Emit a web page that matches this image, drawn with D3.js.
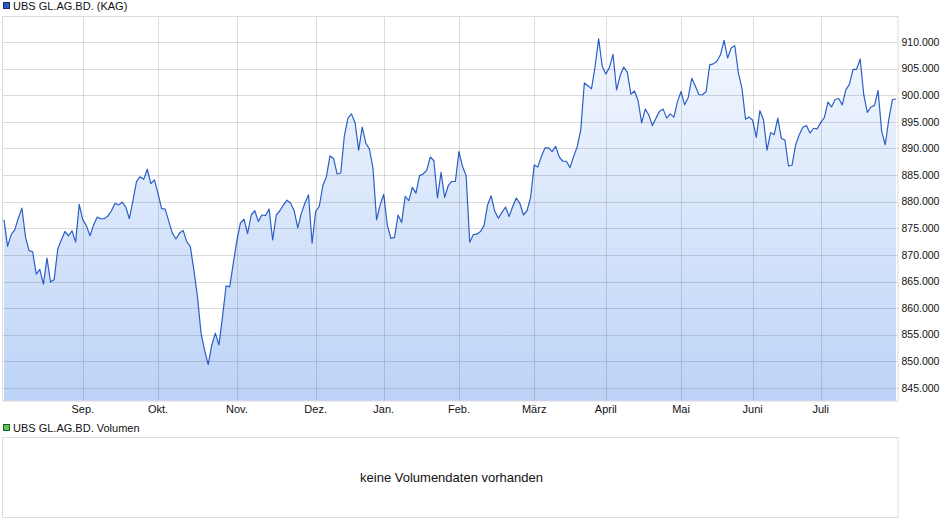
<!DOCTYPE html>
<html><head><meta charset="utf-8">
<script src="https://cdn.jsdelivr.net/npm/d3@7"></script>
<style>
html,body{margin:0;padding:0;background:#fff;}
svg{display:block;font-family:"Liberation Sans",Arial,sans-serif;}
</style></head>
<body><svg id="c" width="940" height="526"></svg>
<script>
const seriesName = "UBS GL.AG.BD. (KAG)";
const volumeName = "UBS GL.AG.BD. Volumen";
const volumeMsg = "keine Volumendaten vorhanden";

const values = [
876.6,871.6,873.8,874.7,876.9,878.8,873.4,870.8,870.6,866.4,
867.3,864.5,869.4,864.9,865.4,871.1,872.8,874.4,873.6,874.5,
872.4,879.5,876.6,875.5,873.6,875.6,877.1,876.8,876.8,877.3,
878.3,879.7,879.4,879.9,879.0,876.8,880.2,883.8,884.7,884.2,
886.1,883.4,884.1,881.5,878.7,878.6,876.3,874.1,873.0,874.1,
874.6,872.5,871.6,867.2,862.2,855.3,852.1,849.4,853.1,855.3,
853.1,858.4,864.2,864.0,868.4,872.7,876.0,876.7,874.0,877.5,
878.3,876.3,877.5,877.4,878.6,872.8,877.5,878.3,879.4,880.3,
879.7,878.3,875.1,877.8,879.7,881.3,872.2,878.2,879.1,883.0,
884.7,888.6,888.1,885.2,885.4,892.3,895.7,896.5,894.8,889.7,
894.0,891.0,889.9,886.3,876.6,879.4,881.4,875.6,873.1,873.3,
877.5,876.1,881.0,880.2,882.7,881.6,884.9,885.2,885.9,888.4,
887.7,880.7,885.5,880.8,883.0,883.8,883.8,889.4,886.6,884.9,
872.4,873.8,873.9,874.4,875.5,879.4,881.1,878.2,876.9,878.0,
879.0,877.2,879.1,880.7,879.7,877.5,878.3,880.8,886.9,886.5,
888.5,890.1,890.1,889.4,890.4,888.4,887.6,887.6,886.4,888.5,
890.3,893.5,902.3,901.8,901.2,905.4,910.6,905.4,904.0,905.2,
907.7,901.0,903.7,905.3,904.3,900.2,900.8,899.0,894.8,897.4,
896.3,894.3,895.7,897.0,897.4,895.7,896.5,895.9,898.8,900.7,
898.2,899.6,903.2,901.7,900.1,900.1,900.7,905.7,905.9,906.4,
907.6,910.3,907.0,908.9,909.3,904.2,901.3,895.5,895.9,895.3,
892.1,897.1,895.4,889.7,893.0,892.6,895.7,891.9,891.6,886.7,
886.9,890.7,892.6,894.0,894.3,892.9,893.8,893.7,894.9,895.8,
898.7,897.8,899.2,899.4,898.2,901.0,902.1,904.8,904.9,906.8,
900.1,896.8,897.8,898.1,900.9,893.2,890.7,895.5,899.2,899.3
];

const monthLabels = ["Sep.","Okt.","Nov.","Dez.","Jan.","Feb.","März","April","Mai","Juni","Juli"];
const monthIndex  = [22, 43, 65, 87, 106, 127, 148, 168, 189, 209, 228];
const yTicks = [845,850,855,860,865,870,875,880,885,890,895,900,905,910];

const svg = d3.select("#c");
const plot = {left:3, right:898, top:16.5, bottom:401};
const vol = {left:3, right:898, top:437.5, bottom:517.5};

const x = d3.scaleLinear().domain([0, values.length-1]).range([4, 896]);
const y = d3.scaleLinear().domain([842.55, 914.8]).range([plot.bottom, plot.top]);

const de = d3.formatLocale({decimal:",", thousands:".", grouping:[3], currency:["","€"]});
const fmt = de.format(",.0f");

const defs = svg.append("defs");
const grad = defs.append("linearGradient").attr("id","g").attr("gradientUnits","userSpaceOnUse")
  .attr("x1",0).attr("x2",0).attr("y1",plot.top).attr("y2",plot.bottom);
grad.append("stop").attr("offset","0%").attr("stop-color","#f7faff");
grad.append("stop").attr("offset","100%").attr("stop-color","#bcd3f7");
defs.append("clipPath").attr("id","clip").append("rect")
  .attr("x",plot.left).attr("y",plot.top).attr("width",plot.right-plot.left).attr("height",plot.bottom-plot.top);

// legend
function legend(yy, fill, stroke, text){
  svg.append("rect").attr("x",3.5).attr("y",yy-3.5).attr("width",6).attr("height",6)
    .attr("fill",fill).attr("stroke",stroke).attr("stroke-width",1);
  svg.append("text").attr("x",13).attr("y",yy).attr("dy","0.35em")
    .attr("font-size",11).attr("fill","#111").text(text);
}
legend(6, "#2a5bc0", "#1a2f6a", seriesName);

// area + line
const g = svg.append("g").attr("clip-path","url(#clip)");
g.append("path").datum(values)
  .attr("d", d3.area().x((d,i)=>x(i)).y0(plot.bottom).y1(d=>y(d)))
  .attr("fill","url(#g)");

// grid
const grid = svg.append("g").attr("stroke","rgba(0,0,0,0.135)").attr("stroke-width",1);
grid.selectAll("line.h").data(yTicks).join("line")
  .attr("x1",plot.left).attr("x2",plot.right)
  .attr("y1",d=>Math.round(y(d))+0.5).attr("y2",d=>Math.round(y(d))+0.5);
grid.selectAll("line.v").data(monthIndex).join("line")
  .attr("y1",plot.top).attr("y2",plot.bottom)
  .attr("x1",d=>Math.round(x(d))+0.5).attr("x2",d=>Math.round(x(d))+0.5);

g.append("path").datum(values)
  .attr("d", d3.line().x((d,i)=>x(i)).y(d=>y(d)))
  .attr("fill","none").attr("stroke","#2a60c6").attr("stroke-width",1.2).attr("stroke-linejoin","round");

svg.append("rect").attr("x",plot.left-0.5).attr("y",plot.top).attr("width",plot.right-plot.left+0.5)
  .attr("height",plot.bottom-plot.top).attr("fill","none").attr("stroke","#dcdcdc");

// y axis labels
svg.append("g").selectAll("text").data(yTicks).join("text")
  .attr("x",901.5).attr("y",d=>y(d)).attr("dy","0.35em")
  .attr("font-size",10.5).attr("fill","#111").text(d=>fmt(d*1000));

// x axis labels
svg.append("g").selectAll("text").data(monthIndex).join("text")
  .attr("x",(d)=>x(d)).attr("y",409).attr("dy","0.35em").attr("text-anchor","middle")
  .attr("font-size",11).attr("fill","#111").text((d,i)=>monthLabels[i]);

// volume panel
legend(428, "#5cc85c", "#1f5a1f", volumeName);
svg.append("rect").attr("x",vol.left-0.5).attr("y",vol.top).attr("width",vol.right-vol.left+0.5)
  .attr("height",vol.bottom-vol.top).attr("fill","#fff").attr("stroke","#dcdcdc");
svg.append("text").attr("x",(vol.left+vol.right)/2+1).attr("y",(vol.top+vol.bottom)/2).attr("dy","0.35em")
  .attr("text-anchor","middle").attr("font-size",13).attr("fill","#111").text(volumeMsg);
</script></body></html>
